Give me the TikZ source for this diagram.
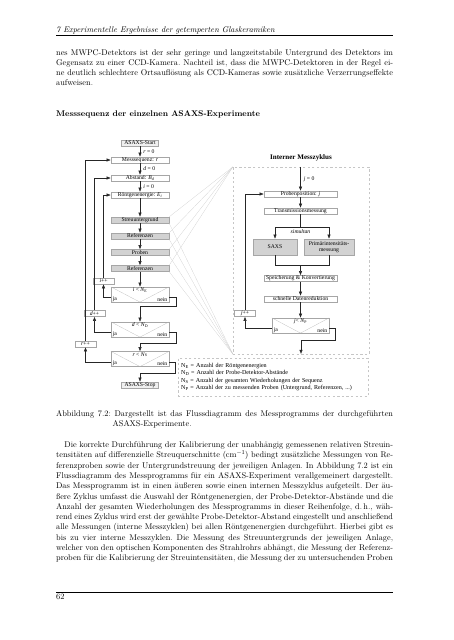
\documentclass[tikz,border=0pt]{standalone}
\usepackage{fontspec}
\usetikzlibrary{arrows.meta}
\newfontfamily\fcfont{Liberation Serif}
\newcommand{\px}{0.4636mm}
\newlength{\tw}
\setlength{\tw}{156.2mm}
\newcommand{\fl}[1]{\hbox to \tw{#1}}
\newcommand{\bodyfont}{\fontsize{10.95}{13.6}\selectfont\frenchspacing}

\begin{document}
\begin{tikzpicture}[x=0.4636mm, y=-0.4636mm,
  box/.style={draw=gray!70, line width=0.3pt, fill=white, inner sep=0pt, minimum width=58*\px, minimum height=6*\px, font=\fcfont\fontsize{7.5}{8}\selectfont},
  graybox/.style={box, fill=gray!35},
  termbox/.style={box, fill=gray!12, minimum width=37*\px},
  incbox/.style={box, minimum width=21*\px},
  dec/.style={draw=gray!70, line width=0.3pt, inner sep=0pt, minimum width=58*\px, minimum height=15*\px},
  decline/.style={draw=gray!60, line width=0.25pt},
  lbl/.style={inner sep=0pt, font=\fcfont\fontsize{7.5}{8}\selectfont},
  arr/.style={draw=black!85, line width=0.6pt, -{Latex[length=2mm,width=1.6mm]}},
  line/.style={draw=black!85, line width=0.6pt},
  zoomline/.style={draw=gray!45, line width=0.2pt},
  frame/.style={draw=gray!45, dashed, line width=0.3pt, inner sep=0pt}]

\fill[white] (0,0) rectangle (453,640);
\useasboundingbox (0,0) rectangle (453,640);

\node[anchor=base west, inner sep=0pt, font=\bodyfont\itshape] (head) at (56,32) {7 Experimentelle Ergebnisse der getemperten Glaskeramiken};
\draw[line width=0.4pt] (56,35) -- (393,35);

\node[anchor=base west, inner sep=0pt] (para1) at (56,55) {\parbox[t]{\tw}{\bodyfont
\fl{nes MWPC-Detektors ist der sehr geringe und langzeitstabile Untergrund des Detektors im}
\fl{Gegensatz zu einer CCD-Kamera. Nachteil ist, dass die MWPC-Detektoren in der Regel ei-}
\fl{ne deutlich schlechtere Ortsauflösung als CCD-Kameras sowie zusätzliche Verzerrungseffekte}
\hbox{aufweisen.}}};

\node[anchor=base west, inner sep=0pt, font=\bodyfont\bfseries] (secttl) at (56,116.5) {Messsequenz der einzelnen ASAXS-Experimente};

\node[termbox] (start) at (140,143) {ASAXS-Start};
\node[box] (seq) at (140,160) {Messsequenz: \textit{r}};
\node[box] (dist) at (140,178) {Abstand: \textit{B}\textsubscript{\textit{d}}};
\node[box] (energy) at (140,195) {Röntgenenergie: \textit{E}\textsubscript{\textit{i}}};
\node[graybox] (bg) at (140,220) {Streuuntergrund};
\node[graybox] (refa) at (140,236) {Referenzen};
\node[graybox] (samp) at (140,252.5) {Proben};
\node[graybox] (refb) at (140,268.5) {Referenzen};
\node[dec] (deci) at (140,294.5) {};
\node[dec] (decd) at (140,329.5) {};
\node[dec] (decr) at (140,359) {};
\node[termbox] (stop) at (140,385) {ASAXS-Stop};
\node[incbox] (iinc) at (103.5,281) {\textit{i}++};
\node[incbox] (dinc) at (94.5,313.5) {\textit{d}++};
\node[incbox] (rinc) at (85.5,344) {\textit{r}++};

\draw[decline] (deci.north west) -- (deci.south) -- (deci.north east);
\node[lbl, anchor=north] (deciq) at ([yshift=-0.4mm]deci.north) {\textit{i} < \textit{N}\textsubscript{E}};
\node[lbl, anchor=south west] (decija) at ([xshift=0.8mm,yshift=0.3mm]deci.south west) {ja};
\node[lbl, anchor=south east] (decinein) at ([xshift=-0.8mm,yshift=0.3mm]deci.south east) {nein};
\draw[decline] (decd.north west) -- (decd.south) -- (decd.north east);
\node[lbl, anchor=north] (decdq) at ([yshift=-0.4mm]decd.north) {\textit{d} < \textit{N}\textsubscript{D}};
\node[lbl, anchor=south west] (decdja) at ([xshift=0.8mm,yshift=0.3mm]decd.south west) {ja};
\node[lbl, anchor=south east] (decdnein) at ([xshift=-0.8mm,yshift=0.3mm]decd.south east) {nein};
\draw[decline] (decr.north west) -- (decr.south) -- (decr.north east);
\node[lbl, anchor=north] (decrq) at ([yshift=-0.4mm]decr.north) {\textit{r} < \textit{N}\textsubscript{S}};
\node[lbl, anchor=south west] (decrja) at ([xshift=0.8mm,yshift=0.3mm]decr.south west) {ja};
\node[lbl, anchor=south east] (decrnein) at ([xshift=-0.8mm,yshift=0.3mm]decr.south east) {nein};

\draw[arr] (start) -- (seq) node[lbl, midway, anchor=west, xshift=1.5mm] (rzero) {\textit{r} = 0};
\draw[arr] (seq) -- (dist) node[lbl, midway, anchor=west, xshift=1.5mm] (dzero) {\textit{d} = 0};
\draw[arr] (dist) -- (energy) node[lbl, midway, anchor=west, xshift=1.5mm] (izero) {\textit{i} = 0};
\draw[arr] (energy) -- (bg);
\draw[arr] (bg) -- (refa);
\draw[arr] (refa) -- (samp);
\draw[arr] (samp) -- (refb);
\draw[arr] (refb) -- (deci);
\draw[arr] ([yshift=-1.4mm]deci.west) -| (iinc);
\draw[arr] (iinc) |- (energy);
\draw[arr] ([yshift=-1.4mm]deci.east) -- ++(7,0) -- ++(0,9) -| (decd);
\draw[arr] ([yshift=-1.4mm]decd.west) -| (dinc);
\draw[arr] (dinc) |- (dist);
\draw[arr] ([yshift=-1.4mm]decd.east) -- ++(7,0) -- ++(0,10.5) -| (decr);
\draw[arr] ([yshift=-1.4mm]decr.west) -| (rinc);
\draw[arr] (rinc) |- (seq);
\draw[arr] ([yshift=-1.4mm]decr.east) -- ++(6,0) -- ++(0,11) -| (stop);

\node[frame, minimum width=136*\px, minimum height=187*\px] (cyc) at (301,260.5) {};
\node[inner sep=0pt, font=\fcfont\bfseries\fontsize{9.3}{11}\selectfont] (cyctitle) at (301,158) {Interner Messzyklus};
\node[box, minimum width=73*\px] (pos) at (300.5,194) {Probenposition: \textit{j}};
\node[box, minimum width=73*\px] (trans) at (300.5,211) {Transmissionsmessung};
\node[graybox, minimum width=44*\px, minimum height=16*\px] (saxs) at (275,247) {SAXS};
\node[graybox, minimum width=50*\px, minimum height=16*\px, align=center] (prim) at (329,247) {Primärintensitäts-\\messung};
\node[box, minimum width=73*\px] (store) at (300.5,278.5) {Speicherung \& Konvertierung};
\node[box, minimum width=73*\px] (red) at (300.5,299) {schnelle Datenreduktion};
\node[dec, minimum width=57*\px] (decj) at (300.5,325.5) {};
\node[incbox] (jinc) at (245,313.5) {\textit{j}++};
\draw[decline] (decj.north west) -- (decj.south) -- (decj.north east);
\node[lbl, anchor=north] (decjq) at ([yshift=-0.4mm]decj.north) {\textit{j}< \textit{N}\textsubscript{P}};
\node[lbl, anchor=south west] (decjja) at ([xshift=0.8mm,yshift=0.3mm]decj.south west) {ja};
\node[lbl, anchor=south east] (decjnein) at ([xshift=-0.8mm,yshift=0.3mm]decj.south east) {nein};

\coordinate (split) at (300.5,227);
\coordinate (merge) at (300.5,265);
\draw[arr] (cyc.north -| pos) -- (pos) node[lbl, midway, anchor=west, xshift=1.5mm] (jzero) {\textit{j} = 0};
\draw[arr] (pos) -- (trans);
\draw[line] (trans) -- (split);
\draw[arr] (split) -| (saxs);
\draw[arr] (split) -| (prim);
\node[lbl, font=\fcfont\itshape\fontsize{7.5}{8}\selectfont] (simul) at (300.5,231.5) {simultan};
\draw[line] (saxs) |- (merge);
\draw[line] (prim) |- (merge);
\draw[arr] (merge) -- (store);
\draw[arr] (store) -- (red);
\draw[arr] (red) -- (decj);
\draw[arr] ([yshift=-1.4mm]decj.west) -| (jinc);
\draw[arr] (jinc) |- (pos);
\draw[arr] ([yshift=-1.4mm]decj.east) -- ++(6,0) -- ++(0,11.5) -| (cyc.south);

\foreach \b in {bg,refa,samp,refb}{
  \draw[zoomline] (\b.north east) -- (cyc.north west);
  \draw[zoomline] (\b.south east) -- (cyc.south west);
}

\node[frame, anchor=north west, minimum height=38*\px, text width=184*\px, inner xsep=1.4mm, align=left, font=\fcfont\fontsize{8}{9.6}\selectfont] (legend) at (178,358) {N\textsubscript{E} = Anzahl der Röntgenenergien\\
N\textsubscript{D} = Anzahl der Probe-Detektor-Abstände\\
N\textsubscript{S} = Anzahl der gesamten Wiederholungen der Sequenz\\
N\textsubscript{P} = Anzahl der zu messenden Proben (Untergrund, Referenzen, ...)};

\node[anchor=base west, inner sep=0pt] (caption) at (56,416.5) {\parbox[t]{\tw}{\bodyfont
\fl{Abbildung 7.2: Dargestellt ist das Flussdiagramm des Messprogramms der durchgeführten}
\hbox{\phantom{Abbildung 7.2: }ASAXS-Experimente.}}};

\node[anchor=base west, inner sep=0pt] (para2) at (56,447.5) {\parbox[t]{\tw}{\bodyfont
\fl{\hspace*{11pt}Die korrekte Durchführung der Kalibrierung der unabhängig gemessenen relativen Streuin-}
\fl{tensitäten auf differenzielle Streuquerschnitte (cm$^{-1}$) bedingt zusätzliche Messungen von Re-}
\fl{ferenzproben sowie der Untergrundstreuung der jeweiligen Anlagen. In Abbildung 7.2 ist ein}
\fl{Flussdiagramm des Messprogramms für ein ASAXS-Experiment verallgemeinert dargestellt.}
\fl{Das Messprogramm ist in einen äußeren sowie einen internen Messzyklus aufgeteilt. Der äu-}
\fl{ßere Zyklus umfasst die Auswahl der Röntgenenergien, der Probe-Detektor-Abstände und die}
\fl{Anzahl der gesamten Wiederholungen des Messprogramms in dieser Reihenfolge, d.\,h., wäh-}
\fl{rend eines Zyklus wird erst der gewählte Probe-Detektor-Abstand eingestellt und anschließend}
\fl{alle Messungen (interne Messzyklen) bei allen Röntgenenergien durchgeführt. Hierbei gibt es}
\fl{bis zu vier interne Messzyklen. Die Messung des Streuuntergrunds der jeweiligen Anlage,}
\fl{welcher von den optischen Komponenten des Strahlrohrs abhängt, die Messung der Referenz-}
\fl{proben für die Kalibrierung der Streuintensitäten, die Messung der zu untersuchenden Proben}}};

\draw[line width=0.4pt] (56,592) -- (393,592);
\node[anchor=base west, inner sep=0pt, font=\bodyfont] (pagenum) at (56,599) {62};

\end{tikzpicture}
\end{document}
